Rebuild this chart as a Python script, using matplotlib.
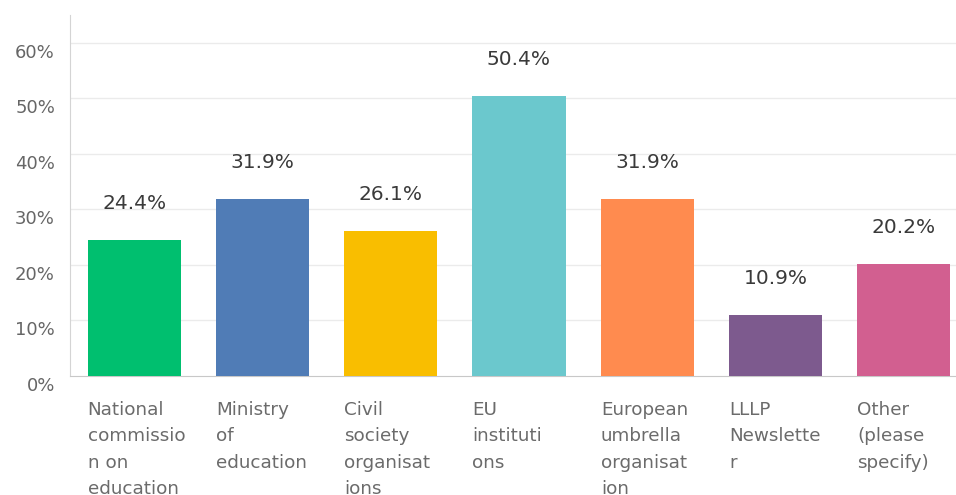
'''Survey chart: where respondents heard about it'''

import matplotlib
matplotlib.use('Agg')
import matplotlib.pyplot as plt
import matplotlib.transforms as mtransforms

# Data
categories = ['National\ncommissio\nn on\neducation', 'Ministry\nof\neducation',
              'Civil\nsociety\norganisat\nions', 'EU\ninstituti\nons',
              'European\numbrella\norganisat\nion', 'LLLP\nNewslette\nr',
              'Other\n(please\nspecify)']
values = [24.4, 31.9, 26.1, 50.4, 31.9, 10.9, 20.2]
colors = ['#00BF6F', '#507CB6', '#F9BE00', '#6BC8CD', '#FF8B4F', '#7D5A8E', '#D25F90']
yticks = [0, 10, 20, 30, 40, 50, 60]

plt.rcParams['font.family'] = ['DejaVu Sans']

W, H = 956, 495
fig = plt.figure(figsize=(W / 100, H / 100), dpi=100)
ax = fig.add_axes([70 / W, (H - 376) / H, (968 - 70) / W, (376 - 15) / H])

x = list(range(len(values)))
ax.bar(x, values, width=0.725, color=colors, zorder=3)
ax.set_xlim(-0.5, len(values) - 0.5)
ax.set_ylim(0, 65)

# grid
for t in yticks[1:]:
    ax.axhline(t, color='#ebebeb', lw=1, zorder=1)

for s in ['top', 'right']:
    ax.spines[s].set_visible(False)
ax.spines['left'].set_color('#d4d4d4')
ax.spines['bottom'].set_color('#c8c8c8')
ax.set_xticks([])
ax.set_yticks([])

# y labels, shifted down a bit like the original
yoff = mtransforms.ScaledTranslation(0, -10 / 100, fig.dpi_scale_trans)
trans_y = mtransforms.blended_transform_factory(fig.transFigure, ax.transData)
for t in yticks:
    ax.text(55 / W, t, f'{t}%', transform=trans_y + yoff, ha='right', va='center',
            fontsize=13, color='#666666')

# value labels
for xi, v in zip(x, values):
    ax.annotate(f'{v}%', (xi, v), xytext=(0, 27), textcoords='offset pixels',
                ha='center', va='bottom', fontsize=14.5, color='#3a3a3a')

# category labels, left aligned under each bar
xoff = mtransforms.ScaledTranslation(0, -25 / 100, fig.dpi_scale_trans)
trans_x = mtransforms.blended_transform_factory(ax.transData, ax.transAxes)
for xi, lab in zip(x, categories):
    ax.text(xi - 0.3625, 0, lab, transform=trans_x + xoff, ha='left', va='top',
            fontsize=13.2, color='#6b6b6b', linespacing=1.6)

fig.savefig('out.png', dpi=100)
